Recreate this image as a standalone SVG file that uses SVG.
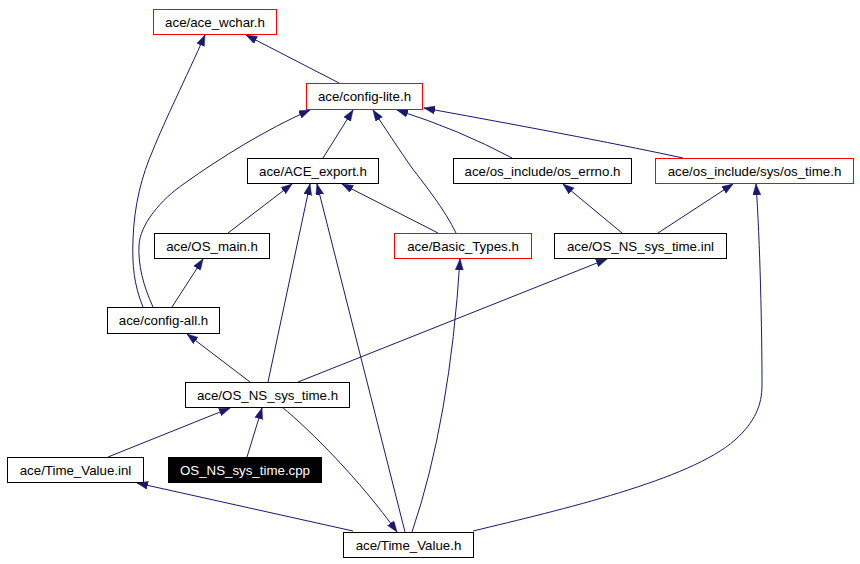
<svg xmlns="http://www.w3.org/2000/svg" width="860" height="564" viewBox="0 0 860 564">
<style>
.n rect{fill:#fff;stroke:#000;stroke-width:1}
.n.r rect{stroke:#ff0000}
.n text{font-family:"Liberation Sans",Arial,sans-serif;font-size:13.3px;fill:#000;text-anchor:middle}
.n.b rect{fill:#000;stroke:#000}
.n.b text{fill:#fff}
.e path{fill:none;stroke:#191970;stroke-width:1;marker-end:url(#ah)}
</style>
<defs>
<marker id="ah" markerUnits="userSpaceOnUse" markerWidth="12" markerHeight="9" refX="11" refY="4" orient="auto">
<path d="M0,0 L11,4 L0,8 z" fill="#191970" stroke="#191970" stroke-width="0.5"/>
</marker>
</defs>
<rect width="860" height="564" fill="#fff"/>
<g id="edges" class="e">
<path d="M339,83 L246,35"/>
<path d="M143,307 C134,285 132,265 133,240 C134,205 142,175 153,150 C165,120 185,80 205,35"/>
<path d="M153,307 C143,285 138,265 139,245 C140,225 160,200 185,183 C220,158 265,130 310,110"/>
<path d="M323,158 L353,110"/>
<path d="M456,233 C445,210 425,185 412,168 C398,148 385,128 373,110"/>
<path d="M512,158 Q460,130 397,110"/>
<path d="M683,158 Q600,140 424,108"/>
<path d="M228,233 L292,184"/>
<path d="M268,382 L310,184"/>
<path d="M405,532 L317,184"/>
<path d="M438,233 L342,184"/>
<path d="M622,233 L563,184"/>
<path d="M658,233 L733,184"/>
<path d="M473,531 C560,510 690,480 735,440 C755,422 762,405 762,385 C762,330 760,240 756,184"/>
<path d="M250,382 L187,334"/>
<path d="M298,382 L607,259"/>
<path d="M412,532 Q450,420 460,259"/>
<path d="M108,457 L230,408"/>
<path d="M247,457 L262,408"/>
<path d="M282,407 C310,430 360,480 397,532"/>
<path d="M353,531 L137,483"/>
<path d="M172,307 L203,259"/>
</g>
<g id="ace_wchar" class="n r"><rect x="153.5" y="9.5" width="123" height="25"/><text x="215" y="27">ace/ace_wchar.h</text></g>
<g id="config_lite" class="n r"><rect x="306.5" y="83.5" width="116" height="26"/><text x="364.5" y="101">ace/config-lite.h</text></g>
<g id="ACE_export" class="n"><rect x="247.5" y="158.5" width="131" height="25"/><text x="313" y="176">ace/ACE_export.h</text></g>
<g id="os_errno" class="n"><rect x="453.5" y="158.5" width="178" height="25"/><text x="542.5" y="176">ace/os_include/os_errno.h</text></g>
<g id="os_time" class="n r"><rect x="655.5" y="158.5" width="198" height="25"/><text x="754.5" y="176">ace/os_include/sys/os_time.h</text></g>
<g id="OS_main" class="n"><rect x="154.5" y="233.5" width="115" height="25"/><text x="212" y="251">ace/OS_main.h</text></g>
<g id="Basic_Types" class="n r"><rect x="394.5" y="233.5" width="137" height="25"/><text x="463" y="251">ace/Basic_Types.h</text></g>
<g id="OS_NS_sys_time_inl" class="n"><rect x="554.5" y="233.5" width="172" height="25"/><text x="640.5" y="251">ace/OS_NS_sys_time.inl</text></g>
<g id="config_all" class="n"><rect x="107.5" y="307.5" width="112" height="26"/><text x="163.5" y="325">ace/config-all.h</text></g>
<g id="OS_NS_sys_time_h" class="n"><rect x="185.5" y="382.5" width="164" height="25"/><text x="267.5" y="400">ace/OS_NS_sys_time.h</text></g>
<g id="Time_Value_inl" class="n"><rect x="7.5" y="457.5" width="136" height="25"/><text x="75.5" y="475">ace/Time_Value.inl</text></g>
<g id="OS_NS_sys_time_cpp" class="n b"><rect x="168.5" y="457.5" width="153" height="25"/><text x="245" y="475">OS_NS_sys_time.cpp</text></g>
<g id="Time_Value_h" class="n"><rect x="343.5" y="532.5" width="130" height="25"/><text x="408.5" y="550">ace/Time_Value.h</text></g>
</svg>
